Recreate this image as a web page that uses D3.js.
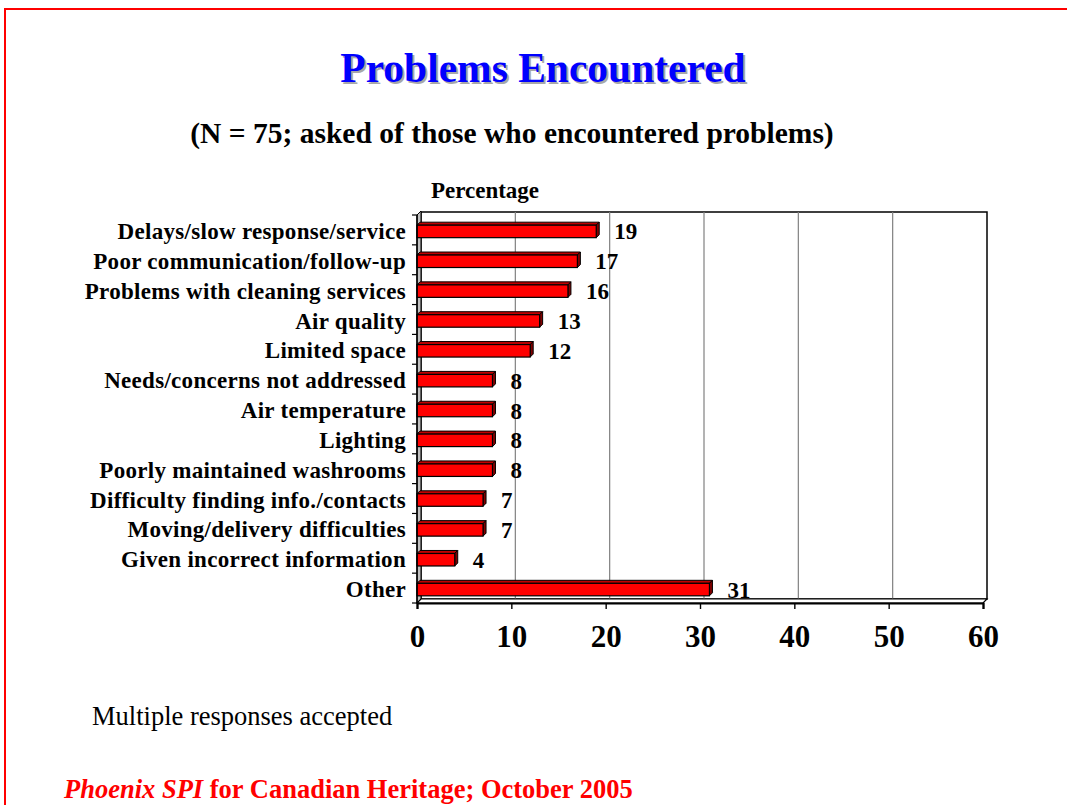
<!DOCTYPE html>
<html>
<head>
<meta charset="utf-8">
<script src="https://cdn.jsdelivr.net/npm/d3@7"></script>
<style>
  html, body { margin: 0; padding: 0; background: #fff; }
  svg { display: block; }
  text { font-family: "Liberation Serif", "Times New Roman", serif; }
</style>
</head>
<body>
<script>
const categories = [
  "Delays/slow response/service",
  "Poor communication/follow-up",
  "Problems with cleaning services",
  "Air quality",
  "Limited space",
  "Needs/concerns not addressed",
  "Air temperature",
  "Lighting",
  "Poorly maintained washrooms",
  "Difficulty finding info./contacts",
  "Moving/delivery difficulties",
  "Given incorrect information",
  "Other"
];
const values = [19, 17, 16, 13, 12, 8, 8, 8, 8, 7, 7, 4, 31];
const xTicks = [0, 10, 20, 30, 40, 50, 60];

const W = 1067, H = 805;
const svg = d3.select("body").append("svg").attr("width", W).attr("height", H);

// slide border
svg.append("rect").attr("x", 5).attr("y", 9).attr("width", W + 20).attr("height", H + 20)
  .attr("fill", "none").attr("stroke", "#ff0000").attr("stroke-width", 2);

// title with shadow
const titleG = svg.append("g");
titleG.append("text").attr("x", 545).attr("y", 84).attr("text-anchor", "middle")
  .attr("font-size", 41.5).attr("font-weight", "bold").attr("fill", "#a8a8a8")
  .text("Problems Encountered");
titleG.append("text").attr("x", 543).attr("y", 82).attr("text-anchor", "middle")
  .attr("font-size", 41.5).attr("font-weight", "bold").attr("fill", "#0000ff")
  .text("Problems Encountered");

svg.append("text").attr("x", 512).attr("y", 143).attr("text-anchor", "middle")
  .attr("font-size", 29.5).attr("font-weight", "bold").attr("fill", "#000")
  .text("(N = 75; asked of those who encountered problems)");

svg.append("text").attr("x", 485).attr("y", 198).attr("text-anchor", "middle")
  .attr("font-size", 23).attr("font-weight", "bold").attr("fill", "#000")
  .text("Percentage");

// chart geometry
const x = d3.scaleLinear().domain([0, 60]).range([417, 983]);
const y = d3.scaleBand().domain(categories).range([215, 603]).paddingInner(0).paddingOuter(0);
const dx = 4, dy = -4;      // wall depth
const bdx = 3, bdy = -3;    // bar depth
const barH = 12.5;

const plot = svg.append("g");

// back wall
plot.append("rect").attr("x", x(0) + dx).attr("y", y.range()[0] + dy + 1)
  .attr("width", x(60) - x(0)).attr("height", (y.range()[1] - y.range()[0]) - 1)
  .attr("fill", "#fff").attr("stroke", "#000").attr("stroke-width", 1.5);

// gridlines on back wall
plot.selectAll("line.grid").data(xTicks.slice(1, -1)).join("line")
  .attr("class", "grid")
  .attr("x1", d => x(d) + dx).attr("x2", d => x(d) + dx)
  .attr("y1", y.range()[0] + dy + 1).attr("y2", y.range()[1] + dy)
  .attr("stroke", "#808080").attr("stroke-width", 1.2);

// left wall
const y0 = y.range()[0], y1 = y.range()[1];
plot.append("polygon")
  .attr("points", [[x(0), y0], [x(0) + dx, y0 + dy], [x(0) + dx, y1 + dy], [x(0), y1]].map(p => p.join(",")).join(" "))
  .attr("fill", "#c0c0c0").attr("stroke", "#000").attr("stroke-width", 1);

// floor
plot.append("polygon")
  .attr("points", [[x(0), y1], [x(60), y1], [x(60) + dx, y1 + dy], [x(0) + dx, y1 + dy]].map(p => p.join(",")).join(" "))
  .attr("fill", "#fff").attr("stroke", "#000").attr("stroke-width", 1.2);

// bars
const bars = plot.selectAll("g.bar").data(categories.map((c, i) => ({ c, v: values[i] }))).join("g").attr("class", "bar");
bars.each(function(d) {
  const g = d3.select(this);
  const top = y(d.c) + (y.bandwidth() - barH) / 2 + 1.5;
  const xl = x(0), xr = x(d.v);
  g.append("polygon")
    .attr("points", [[xl, top], [xl + bdx, top + bdy], [xr + bdx, top + bdy], [xr, top]].map(p => p.join(",")).join(" "))
    .attr("fill", "#c00000").attr("stroke", "#000").attr("stroke-width", 1);
  g.append("polygon")
    .attr("points", [[xr, top], [xr + bdx, top + bdy], [xr + bdx, top + barH + bdy], [xr, top + barH]].map(p => p.join(",")).join(" "))
    .attr("fill", "#800000").attr("stroke", "#000").attr("stroke-width", 1);
  g.append("rect").attr("x", xl).attr("y", top).attr("width", xr - xl).attr("height", barH)
    .attr("fill", "#ff0000").attr("stroke", "#000").attr("stroke-width", 1.2);
  g.append("text").attr("x", xr + 18).attr("y", top + barH / 2).attr("dy", "0.35em")
    .attr("font-size", 23).attr("font-weight", "bold").attr("fill", "#000")
    .text(d.v);
});

// y axis (front)
const yAxisG = plot.append("g");
yAxisG.append("line").attr("x1", x(0)).attr("x2", x(0)).attr("y1", y0).attr("y2", y1)
  .attr("stroke", "#000").attr("stroke-width", 1.5);
const boundaries = categories.map(c => y(c)).concat([y1]);
yAxisG.selectAll("line.tick").data(boundaries).join("line").attr("class", "tick")
  .attr("x1", x(0) - 5).attr("x2", x(0)).attr("y1", d => d).attr("y2", d => d)
  .attr("stroke", "#000").attr("stroke-width", 1.2);
yAxisG.selectAll("text.cat").data(categories).join("text").attr("class", "cat")
  .attr("x", x(0) - 11).attr("y", d => y(d) + y.bandwidth() / 2 + 1).attr("dy", "0.35em")
  .attr("text-anchor", "end").attr("font-size", 23).attr("font-weight", "bold")
  .attr("letter-spacing", "0.3px").attr("fill", "#000")
  .text(d => d);

// x axis (front)
const xAxis = d3.axisBottom(x).tickValues(xTicks).tickSize(6).tickFormat(d3.format("d"));
const xg = plot.append("g").attr("transform", `translate(0,${y1})`).call(xAxis);
xg.select(".domain").attr("stroke", "#000").attr("stroke-width", 2.2);
xg.selectAll(".tick line").attr("stroke", "#000").attr("stroke-width", 1.4);
xg.selectAll(".tick text").attr("font-family", "'Liberation Serif', 'Times New Roman', serif")
  .attr("font-size", 31).attr("font-weight", "bold").attr("fill", "#000").attr("y", 22);

// notes
svg.append("text").attr("x", 92).attr("y", 725)
  .attr("font-size", 26.5).attr("fill", "#000").text("Multiple responses accepted");

const foot = svg.append("text").attr("x", 64).attr("y", 798)
  .attr("font-size", 26.5).attr("font-weight", "bold").attr("fill", "#ff0000");
foot.append("tspan").attr("font-style", "italic").text("Phoenix SPI");
foot.append("tspan").text(" for Canadian Heritage; October 2005");
</script>
</body>
</html>
